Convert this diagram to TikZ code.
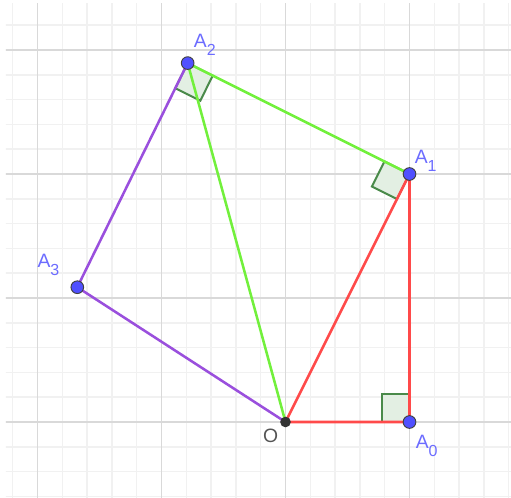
\documentclass[tikz,border=0pt]{standalone}
\usepackage{fontspec}
\setmainfont{Liberation Sans}
\usepackage{tikz}
\usetikzlibrary{calc,positioning}
\usepackage{xcolor}
\definecolor{gridminor}{HTML}{F1F1F1}
\definecolor{gridmajor}{HTML}{D9D9D9}
\definecolor{segred}{HTML}{FF4A4A}
\definecolor{seggreen}{HTML}{72F03C}
\definecolor{segpurple}{HTML}{9A4FDD}
\definecolor{angleedge}{HTML}{4A8A4A}
\definecolor{anglefill}{HTML}{E3EFE3}
\definecolor{ptblue}{HTML}{5050FF}
\definecolor{lblblue}{HTML}{6C6CFF}
\definecolor{lblgray}{HTML}{555555}
\newcommand{\subidx}[1]{A\raisebox{-6pt}{\fontsize{12}{12}\selectfont #1}}

\begin{document}
\begin{tikzpicture}[x=93pt,y=93pt,font=\fontsize{14.5}{14.5}\selectfont,
  seg/.style={line width=1.9pt,line cap=round},
  rightangle/.style={draw=angleedge,fill=anglefill,line width=1.5pt},
  freept/.style={circle,fill=ptblue,draw=black!75,line width=0.7pt,inner sep=0pt,minimum size=9.5pt},
  originpt/.style={circle,fill=black!80,inner sep=0pt,minimum size=8pt},
  ptname/.style={text=lblblue,inner sep=0pt,anchor=base west}]
  \useasboundingbox (-2.3024,-0.6048) rectangle (1.8185,3.4032);
  % grid
  \begin{scope}
    \clip (-2.254,-0.6048) rectangle (1.8185,3.371);
    \draw[gridminor,line width=1.1pt,step=0.2] (-2.4,-0.8) grid (2,3.6);
    \draw[gridmajor,line width=1.4pt,step=1] (-2.4,-0.8) grid (2,3.6);
  \end{scope}
  % points
  \coordinate (O) at (0,0);
  \coordinate (A0) at (1,0);
  \coordinate (A1) at (1,2);
  \coordinate (A2) at (-0.7889,2.8944);
  \coordinate (A3) at (-1.679,1.087);
  % right angles
  \foreach \v/\p/\q in {A0/O/A1,A1/O/A2,A2/A1/A3}{
    \path ($(\v)!21pt!(\p)$) coordinate (ra1) ($(\v)!21pt!(\q)$) coordinate (ra2);
    \draw[rightangle] (\v) -- (ra1) -- ($(ra1)+(ra2)-(\v)$) -- (ra2) -- cycle;
  }
  % segments
  \draw[seg,seggreen] (O) -- (A2) -- (A1);
  \draw[seg,segpurple] (O) -- (A3) -- (A2);
  \draw[seg,segred] (O) -- (A0) -- (A1) -- (O);
  \node[originpt] (pO) at (O) {};
  \foreach \k in {0,...,3}{\node[freept] (pA\k) at (A\k) {};}
  % labels
  \node[ptname,text=lblgray] (labO) at ($(pO.center)+(-17pt,-15.5pt)$) {O};
  \node[ptname] (labA0) at ($(pA0.center)+(4.5pt,-19.5pt)$) {\subidx{0}};
  \node[ptname] (labA1) at ($(pA1.center)+(3.8pt,7.5pt)$) {\subidx{1}};
  \node[ptname] (labA2) at ($(pA2.center)+(4.5pt,12pt)$) {\subidx{2}};
  \node[ptname] (labA3) at ($(pA3.center)+(-30pt,15pt)$) {\subidx{3}};
\end{tikzpicture}
\end{document}
